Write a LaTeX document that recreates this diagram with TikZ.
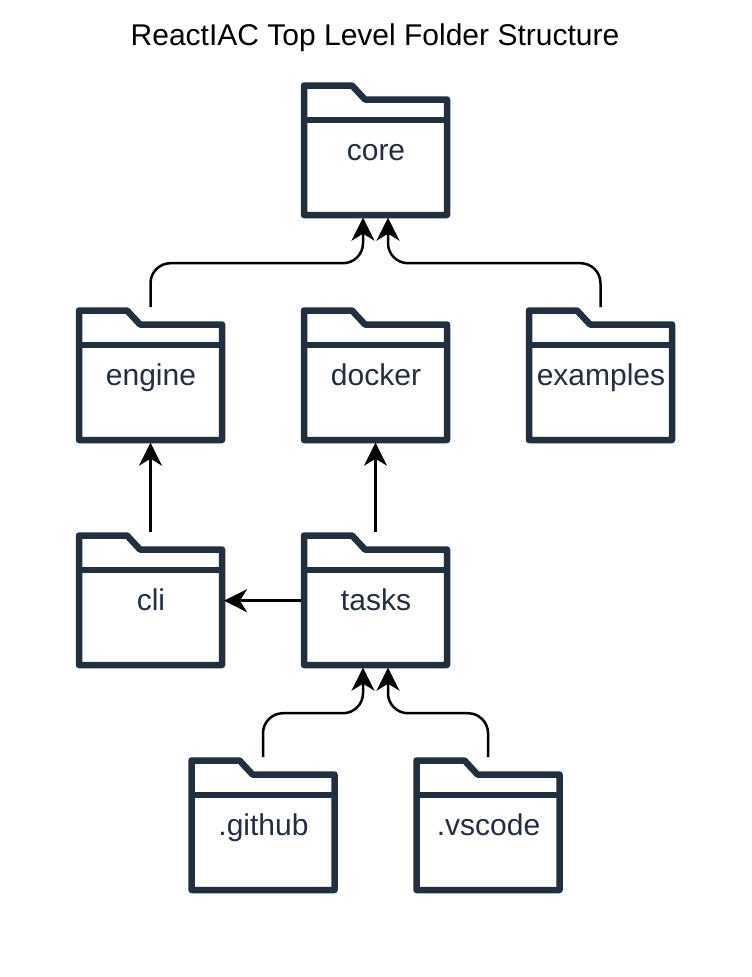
\documentclass[tikz,border=0pt]{standalone}
\usepackage{fontspec}
\setmainfont{Liberation Sans}
\usetikzlibrary{arrows.meta}
\definecolor{foldercol}{HTML}{232F3E}
\tikzset{
  x=1pt,y=-1pt,
  folderbox/.style={rectangle,minimum width=150pt,minimum height=137pt,inner sep=0pt,outer sep=0pt,text=foldercol,text height=24pt,text depth=5pt,font=\fontsize{30}{36}\selectfont},
  folderline/.style={draw=foldercol,line width=6.5pt,line join=round},
  link/.style={draw=black,line width=2.5pt,rounded corners=20pt,shorten >=-1.5pt,-{Stealth[length=23pt,width=23pt,inset=7pt]}},
  titletext/.style={font=\fontsize{30}{36}\selectfont,text=black}
}
\newcommand{\folderat}[4]{%
  \begin{scope}[shift={(#2,#3)}]
    \node[folderbox] (#1) at (0,0.7) {\hspace{1pt}#4};
    \draw[folderline] (-71.5,-64.5) -- (-23.5,-64.5) -- (-10.5,-50.5) -- (71.5,-50.5) -- (71.5,65) -- (-71.5,65) -- cycle;
    \draw[folderline] (-71.5,-30) -- (71.5,-30);
  \end{scope}}
\begin{document}
\begin{tikzpicture}
\useasboundingbox (0,0) rectangle (752,977);
\fill[white] (0,0) rectangle (752,977);
\node[titletext] (title) at (375,37.6) {ReactIAC Top Level Folder Structure};
\folderat{core}{375.5}{150}{core}
\folderat{engine}{150.5}{375}{engine}
\folderat{docker}{375.5}{375}{docker}
\folderat{examples}{600.5}{375}{examples}
\folderat{cli}{150.5}{600}{cli}
\folderat{tasks}{375.5}{600}{tasks}
\folderat{github}{263}{825}{.github}
\folderat{vscode}{488}{825}{.vscode}
\draw[link] (engine.north) -- ++(0,-44) -- ([xshift=-12.5pt,yshift=-44pt]core.south) -- ([xshift=-12.5pt]core.south);
\draw[link] (examples.north) -- ++(0,-44) -- ([xshift=12.5pt,yshift=-44pt]core.south) -- ([xshift=12.5pt]core.south);
\draw[link] (cli.north) -- (engine.south);
\draw[link] (tasks.north) -- (docker.south);
\draw[link] (tasks.west) -- (cli.east);
\draw[link] (github.north) -- ++(0,-44) -- ([xshift=-12.5pt,yshift=-44pt]tasks.south) -- ([xshift=-12.5pt]tasks.south);
\draw[link] (vscode.north) -- ++(0,-44) -- ([xshift=12.5pt,yshift=-44pt]tasks.south) -- ([xshift=12.5pt]tasks.south);
\end{tikzpicture}
\end{document}
